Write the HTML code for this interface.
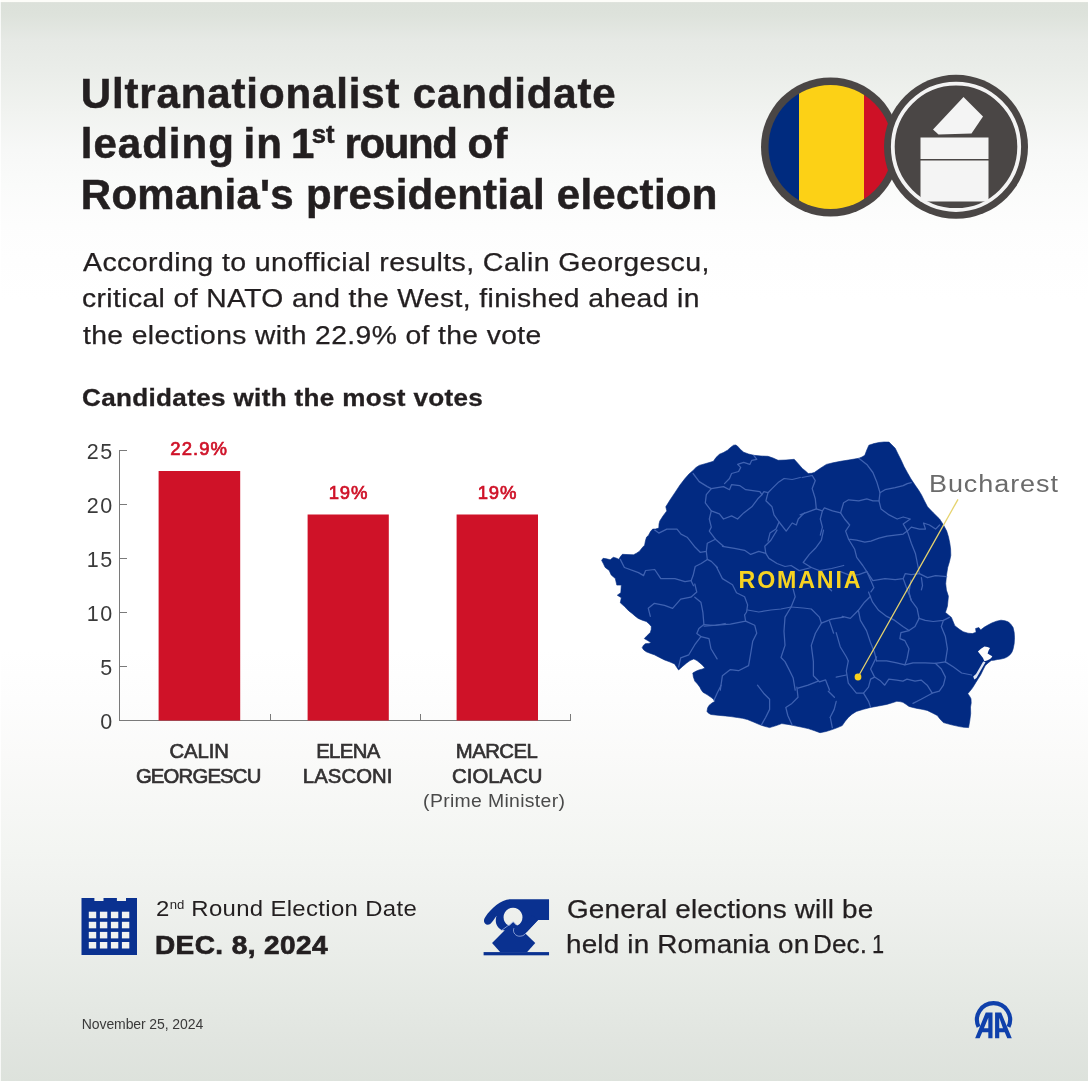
<!DOCTYPE html>
<html lang="en"><head><meta charset="utf-8"><title>Romania presidential election</title>
<style>
html,body{margin:0;padding:0}
body{width:1088px;height:1081px;overflow:hidden;position:relative;font-family:"Liberation Sans",sans-serif;
background:#fdfdfc}
#bg{position:absolute;left:0;top:0;width:1088px;height:1081px;
background:linear-gradient(to bottom,#fdfdf9 0px,#fdfdf9 1.6px,#dce1da 2.6px,#dde2db 14px,#e6e9e5 40px,#eaede9 70px,#f1f3f0 112px,#f7f8f7 150px,#fafbfa 185px,#fdfdfd 225px,#fefefe 260px,#ffffff 300px,#ffffff 650px,#fdfdfd 700px,#fafaf9 755px,#f6f7f5 810px,#f3f5f2 850px,#eff1ee 900px,#eaede9 950px,#e5e9e4 1000px,#e1e5e0 1040px,#dde2dc 1081px)}
.t{position:absolute;white-space:nowrap;line-height:1;margin:0;padding:0}
svg{position:absolute;left:0;top:0}
sup.s{font-size:55%;vertical-align:baseline;position:relative;top:-0.62em;letter-spacing:0}
</style></head><body>
<div id="bg"></div><div style="position:absolute;left:0;top:0;width:1.2px;height:1081px;background:rgba(255,255,255,.75)"></div>

<svg width="1088" height="1081" viewBox="0 0 1088 1081">
<defs><clipPath id="fc"><circle cx="830.5" cy="147" r="62"/></clipPath></defs>
<circle cx="830.5" cy="147" r="69.5" fill="#4a4645"/>
<g clip-path="url(#fc)">
<rect x="760" y="80" width="39" height="140" fill="#002b7f"/>
<rect x="799" y="80" width="65" height="140" fill="#fcd116"/>
<rect x="864" y="80" width="40" height="140" fill="#ce1126"/>
</g>
<circle cx="956" cy="146.8" r="72" fill="#4a4645"/>
<circle cx="956" cy="146.8" r="63.2" fill="none" stroke="#f4f4f4" stroke-width="3.8"/>
<polygon points="933,129.5 963.5,97 983,116.5 971.5,133.5 938.5,134.5" fill="#f4f4f4"/>
<rect x="920.5" y="137.5" width="68" height="21.5" fill="#f4f4f4"/>
<rect x="920.5" y="160.5" width="68" height="41" fill="#f4f4f4"/>

<g stroke="#7a7a7a" stroke-width="1" fill="none" shape-rendering="crispEdges">
<path d="M119.5 450V720.5M119 720.5H570.5"/>
<path d="M119.5 450.5H127"/>
<path d="M119.5 504.5H127"/>
<path d="M119.5 558.5H127"/>
<path d="M119.5 612.5H127"/>
<path d="M119.5 666.5H127"/>
<path d="M270.5 714V720.5"/>
<path d="M420.5 714V720.5"/>
<path d="M570.5 714V720.5"/>
</g>
<rect x="158.6" y="471" width="81.6" height="249.5" fill="#cf1228"/>
<rect x="307.6" y="514.5" width="81.2" height="206" fill="#cf1228"/>
<rect x="456.6" y="514.5" width="81.4" height="206" fill="#cf1228"/>
<polygon points="601.6,560.3 603.1,558.3 606.5,558.8 610.2,559.8 613.3,557.3 616.0,558.0 618.8,559.3 620.5,556.5 622.4,554.3 628.0,554.6 633.5,554.8 636.5,553.2 639.5,551.2 642.6,547.3 644.6,545.2 645.5,540.5 646.6,537.1 648.6,535.2 650.5,531.5 652.7,529.1 655.5,529.0 658.8,528.1 659.0,524.0 659.8,521.0 663.0,516.0 666.8,510.9 665.8,506.8 670.0,500.0 674.9,492.7 680.0,485.0 685.0,478.5 689.0,474.0 693.1,470.4 696.0,467.5 699.2,465.4 706.0,463.5 713.4,461.3 716.0,457.5 719.4,454.3 723.5,452.5 727.5,450.2 730.5,447.5 733.6,445.2 735.8,445.0 737.6,446.2 740.5,449.5 743.7,452.2 748.5,454.0 753.8,455.3 761.0,456.0 768.0,456.3 773.0,458.0 778.1,460.3 786.0,460.0 794.2,459.3 798.0,463.5 802.3,468.4 805.5,471.0 808.2,473.5 811.5,473.3 814.3,472.5 820.0,468.5 826.4,464.4 833.0,462.8 840.6,461.3 850.0,459.8 858.8,458.3 862.0,457.0 864.8,455.3 866.8,450.0 868.9,445.2 874.0,443.6 879.0,442.5 884.0,442.0 889.0,442.1 892.0,445.0 895.2,448.2 898.0,454.0 901.2,460.3 904.0,466.5 907.3,472.5 911.0,479.0 915.4,485.6 918.5,490.0 921.4,494.7 924.5,501.0 927.5,506.8 933.5,513.0 939.6,519.0 943.5,525.0 946.7,531.1 948.5,537.0 949.8,543.2 950.6,549.0 950.8,555.4 949.5,561.5 947.7,567.5 946.5,575.0 945.7,583.7 946.4,590.1 948.4,596.2 947.4,606.3 945.4,612.4 948.5,615.0 951.4,617.4 954.8,625.7 959.0,629.0 963.1,631.7 968.0,633.2 972.4,633.6 976.1,632.2 975.6,628.5 978.9,627.6 980.7,629.9 984.4,627.1 988.0,625.0 991.8,623.0 996.5,621.2 1001.0,620.2 1005.0,620.8 1008.5,622.0 1011.0,624.5 1013.1,627.6 1014.2,632.5 1014.5,637.8 1014.2,643.5 1013.1,648.9 1012.0,652.0 1010.3,654.4 1007.8,656.5 1004.8,658.1 1001.0,659.0 997.4,659.5 994.0,660.2 991.3,660.4 988.0,663.0 985.3,665.5 983.0,670.0 980.7,674.8 978.3,678.5 976.0,682.2 974.0,685.5 972.0,688.6 969.8,691.3 967.8,693.7 969.6,696.2 971.0,698.8 971.2,703.0 970.5,707.1 970.7,713.5 969.8,720.5 968.6,727.6 964.0,727.3 959.5,726.6 951.5,724.8 943.4,722.6 940.0,719.0 937.3,715.5 932.0,712.8 927.2,710.4 922.0,709.3 917.1,708.4 913.0,707.5 909.0,706.4 906.0,704.3 902.9,702.3 900.0,701.6 896.8,701.3 891.5,703.0 886.7,704.4 878.5,706.0 870.6,707.4 863.5,709.3 856.4,711.4 852.0,714.2 848.3,717.5 845.0,721.5 842.2,725.6 837.0,727.8 832.1,729.6 826.0,731.5 820.0,732.7 814.0,730.5 808.1,728.6 801.0,727.0 793.9,725.6 788.0,724.4 781.8,723.6 775.5,725.8 769.6,727.6 764.5,726.3 759.5,724.6 753.5,722.0 747.4,719.5 742.5,718.3 737.3,717.5 731.0,716.6 725.2,715.9 718.0,715.3 711.0,714.5 708.5,713.2 707.0,711.4 707.6,708.0 709.0,705.4 712.0,703.0 715.0,701.3 713.2,699.0 711.0,697.3 707.0,694.6 702.9,692.2 701.0,689.5 699.9,687.2 697.5,684.0 694.8,681.1 693.4,677.0 692.8,673.0 695.8,671.3 698.9,670.0 702.0,669.2 704.9,668.0 702.5,665.2 699.9,662.9 697.0,660.6 693.8,658.9 690.0,660.6 686.7,662.9 682.5,666.5 678.6,670.0 676.4,666.8 674.6,663.9 669.5,661.8 664.5,659.9 659.5,657.4 654.4,654.8 650.5,653.4 646.3,651.8 643.8,650.0 642.2,647.7 643.4,645.4 645.3,643.7 648.4,643.4 651.3,642.7 647.6,640.5 644.3,638.6 647.2,635.5 650.3,632.6 651.2,629.5 651.3,626.5 649.0,623.8 646.3,621.5 642.3,620.2 638.2,618.4 635.0,616.0 632.1,613.4 628.9,611.0 626.4,608.5 624.9,606.8 622.3,604.6 620.3,602.8 621.3,597.7 617.3,595.2 620.8,592.7 621.3,585.1 616.8,585.1 615.3,578.5 611.2,575.0 609.2,570.4 605.2,567.4 603.3,563.5" fill="#022a82" stroke="#022a82" stroke-width="0.6" stroke-linejoin="round"/>
<polygon points="977.9,651.6 981.0,648.8 984.4,646.5 987.5,646.9 990.0,647.9 988.5,650.8 987.6,653.5 990.0,655.0 992.3,656.3 991.4,657.8 990.0,659.0 987.0,660.4 984.4,661.3 983.6,659.6 983.0,658.1 980.3,654.6" fill="#fcfcfc"/>
<polygon points="983.2,661.5 985.5,662.3 981.0,670.0 976.5,678.0 974.3,679.5 973.2,676.5 976.0,674.0 979.5,668.0" fill="#dfe5f2"/>
<g fill="none" stroke="#4a6cba" stroke-width="1.25" stroke-linejoin="round" stroke-linecap="round" opacity="0.85">
<polyline points="693.1,473.5 699.2,481.6 707.3,486.6 711.3,488.6 723.5,486.6 729.5,489.7 731.6,484.6 739.6,485.6 745.7,489.7 759.9,491.7 761.9,494.7"/>
<polyline points="724.5,483.6 729.5,478.5 731.6,473.5 738.6,471.5 740.7,467.4 737.6,464.4 743.7,462.4 749.8,464.4 751.8,460.3 756.8,459.3 753.8,455.3"/>
<polyline points="711.3,488.6 706.3,494.7 705.3,502.8 711.3,510.9 709.3,519.0 711.3,527.1 709.3,531.1 715.4,539.2 707.3,543.2 706.3,551.3 700.2,552.3 695.2,547.3 691.1,542.2 687.1,537.2 681.0,534.1 677.0,529.1 666.8,529.1 658.8,533.1 654.7,530.1"/>
<polyline points="711.3,510.9 719.4,513.9 723.5,519.0 731.6,515.9 737.6,519.0 743.7,512.9 751.8,506.8 757.8,498.8 761.9,494.7 763.9,491.7 768.0,492.7 765.9,500.8 772.0,506.8 774.0,514.9 779.1,522.0 776.0,529.1 770.0,533.1 768.0,541.2"/>
<polyline points="768.0,492.7 772.0,488.6 778.1,482.6 784.1,478.5 792.2,479.5 800.3,477.5"/>
<polyline points="715.4,539.2 723.5,546.3"/>
<polyline points="706.3,551.3 707.3,559.4 711.3,561.4 717.4,567.5"/>
<polyline points="707.3,559.4 701.2,563.5 695.2,566.5 693.1,575.6 691.1,580.7 693.5,585.7"/>
<polyline points="620.3,559.4 624.4,567.5 638.5,572.6 643.6,575.6 645.6,570.5 654.7,569.5 660.8,578.6 674.9,578.6 685.0,581.7 691.1,580.7"/>
<polyline points="779.1,522.0 786.2,531.1 792.2,523.0 796.3,525.0 798.3,519.0 804.4,512.9"/>
<polyline points="802.1,477.5 812.2,475.5 815.3,480.6 812.2,488.6 815.3,498.8 816.3,508.9 822.4,510.9 824.4,507.9 832.5,510.9 840.6,512.9"/>
<polyline points="858.8,458.3 866.8,464.4 872.9,472.5 877.0,482.6 880.0,492.7 879.0,500.8 881.0,508.9 889.1,514.9 897.2,519.0 903.2,517.0 910.3,519.0 903.2,524.0 907.3,531.1"/>
<polyline points="880.0,492.7 885.0,489.7 895.2,487.6 903.2,485.6 907.3,483.6 911.3,482.6"/>
<polyline points="840.6,512.9 843.6,502.8 848.6,499.8 858.8,500.8 866.8,498.8 872.9,500.8 879.0,500.8"/>
<polyline points="840.6,512.9 844.6,519.0 849.7,525.0 845.6,531.1 848.6,539.2 856.7,540.2 864.8,542.2 870.9,541.2 879.0,538.2 887.1,536.2 895.2,535.2 903.2,534.1 907.3,531.1"/>
<polyline points="907.3,531.1 911.3,527.1 919.4,529.1 925.5,529.1 923.5,523.0 929.5,525.0 935.6,529.1 939.6,525.0"/>
<polyline points="907.3,531.1 911.3,543.2 915.4,553.4 917.4,563.5 919.4,573.6 911.3,574.6 905.3,573.6 903.2,578.6 895.2,579.6 885.0,578.6 872.9,580.7 866.8,571.6"/>
<polyline points="919.4,573.6 927.5,577.6 935.6,575.6 946.7,576.6"/>
<polyline points="921.4,577.6 922.5,585.7 921.4,589.8"/>
<polyline points="822.4,510.9 820.3,519.0 822.4,527.1 820.3,535.2"/>
<polyline points="800.1,514.9 808.2,511.9 816.3,508.9"/>
<polyline points="848.6,539.2 854.7,549.3 856.7,557.4 862.8,565.5 866.8,571.6 870.9,580.7 873.9,587.7 870.9,591.8"/>
<polyline points="840.6,571.6 850.7,575.6 858.8,574.6 866.8,571.6"/>
<polyline points="903.2,578.6 907.3,589.8 911.3,600.1"/>
<polyline points="650.3,616.4 648.3,608.3 654.4,603.3 664.5,605.3 672.6,608.3 680.7,599.2 690.8,597.2 696.8,592.1 694.8,584.0"/>
<polyline points="694.8,597.2 700.9,602.2 702.9,612.4 703.9,624.5 698.9,628.5 696.8,633.6 700.9,636.6 694.8,644.7 688.8,654.8 680.7,657.9 678.6,667.0"/>
<polyline points="703.9,624.5 715.0,625.5 725.2,623.5"/>
<polyline points="721.1,685.2 717.1,693.2 714.0,700.3"/>
<polyline points="700.9,636.6 709.0,638.6 711.0,648.8 717.1,658.9"/>
<polyline points="757.5,685.2 763.6,693.2 769.6,699.3 769.6,709.4 765.6,717.5 761.6,724.6"/>
<polyline points="796.9,687.2 798.0,697.3 791.9,703.4 785.8,707.4 787.8,715.5 791.9,724.6"/>
<polyline points="798.0,688.2 808.1,685.2 818.2,681.1"/>
<polyline points="828.3,691.2 834.4,697.3"/>
<polyline points="830.3,717.5 832.3,727.6"/>
<polyline points="848.3,660.9 846.3,671.0 848.3,683.1 856.4,693.2 863.5,693.2 868.5,687.2 870.6,679.1 874.6,677.1 870.6,669.0 874.6,660.9 876.6,656.8"/>
<polyline points="863.5,693.2 868.5,701.3 870.6,707.4"/>
<polyline points="876.6,660.9 886.7,660.9 896.8,662.9 904.9,664.9 913.0,662.9 925.2,662.9 935.3,663.3 945.4,661.9"/>
<polyline points="874.6,677.1 880.7,681.1 884.7,685.2 888.8,679.1 896.8,680.1 902.9,681.1 907.0,679.1 915.0,681.1 921.1,680.1 927.2,685.2 932.2,693.2 921.1,699.3 913.0,703.4"/>
<polyline points="935.3,663.3 941.3,669.0 945.4,677.1 943.4,685.2 939.3,691.2 932.2,693.2"/>
<polyline points="945.4,661.9 947.4,648.8 945.4,636.6 941.3,626.5 943.4,620.4"/>
<polyline points="945.4,661.9 953.5,667.0 961.6,673.0 971.7,675.0"/>
<polyline points="919.1,618.4 925.2,620.4 933.2,621.5 943.4,620.4 949.4,617.4"/>
<polyline points="919.1,618.4 915.0,626.5 909.0,630.6 900.9,632.6 899.9,638.6 904.9,640.7 909.0,648.8 907.0,658.9 904.9,664.9"/>
<polyline points="919.1,618.4 917.1,608.3 911.0,600.2 909.0,592.1 911.0,580.0"/>
<polyline points="868.5,592.1 872.6,602.2 878.6,610.3 886.7,616.4 894.8,620.4 902.9,626.5 909.0,630.6"/>
<polyline points="858.4,610.3 860.4,620.4 866.5,630.6 870.6,642.7 874.6,652.8 876.6,660.9"/>
<polyline points="858.4,610.3 864.5,602.2 870.6,596.2"/>
<polyline points="836.2,632.6 840.2,646.7 846.3,656.8 848.3,660.9"/>
<polyline points="842.2,616.4 850.3,618.4 858.4,610.3"/>
<polyline points="836.2,677.1 846.3,675.0"/>
<polyline points="836.2,701.3 834.2,709.4 830.1,717.5"/>
<polyline points="722.4,546.3 734.5,548.3 744.6,550.3 750.7,554.4 758.8,551.3 765.8,553.4 764.8,546.3 770.9,540.2 777.0,530.1"/>
<polyline points="765.8,553.4 768.9,558.4 777.0,563.5 785.0,566.5 791.1,565.5 799.2,570.6 811.3,567.5 803.2,562.5 809.3,554.4 815.4,548.3 821.4,540.2 823.5,530.1"/>
<polyline points="811.3,567.5 819.4,570.6 831.6,568.5 843.7,565.5"/>
<polyline points="716.3,566.5 722.4,578.6 732.5,584.7 736.5,592.8 744.6,596.8 747.6,604.9 746.6,612.0 744.6,615.0"/>
<polyline points="747.6,610.0 758.8,612.0 770.9,610.0 781.0,609.0 791.1,607.0 795.2,596.8 793.1,588.8"/>
<polyline points="791.1,607.0 803.2,608.0 811.3,609.0 819.4,617.1 821.4,623.1 831.6,619.1 843.7,617.1"/>
<polyline points="831.6,590.8 827.5,586.7"/>
<polyline points="744.6,615.0 745.6,621.1 730.4,624.1 716.3,625.2 704.2,626.2"/>
<polyline points="745.6,621.1 754.7,625.2 756.7,633.2 752.7,641.3 750.7,653.5 748.6,665.6 738.5,670.7 730.4,669.6 722.4,675.7 720.3,690.1"/>
<polyline points="791.1,607.0 785.0,617.1 784.0,631.2 785.0,645.4 781.0,657.5 785.0,661.6 789.1,669.6 793.1,677.7 795.2,690.1"/>
<polyline points="821.4,623.1 815.4,633.2 811.3,645.4 813.4,661.6 813.4,675.7 819.4,681.8 825.5,679.8 829.5,690.1"/>
<polyline points="829.5,621.1 833.6,633.2"/>
</g>
<line x1="958" y1="499.4" x2="858" y2="677" stroke="#e6d36e" stroke-width="1.3"/>
<circle cx="858" cy="677" r="3.4" fill="#f9d01c"/>
<path d="M81.5 898H94.4V901H103.5V898H116.9V901H126V898H137V955H81.5Z" fill="#0a3190"/>
<rect x="88.8" y="911.7" width="7.4" height="6.5" fill="#f1f2f1"/>
<rect x="99.9" y="911.7" width="7.4" height="6.5" fill="#f1f2f1"/>
<rect x="110.9" y="911.7" width="7.4" height="6.5" fill="#f1f2f1"/>
<rect x="121.9" y="911.7" width="7.4" height="6.5" fill="#f1f2f1"/>
<rect x="88.8" y="921.8" width="7.4" height="6.5" fill="#f1f2f1"/>
<rect x="99.9" y="921.8" width="7.4" height="6.5" fill="#f1f2f1"/>
<rect x="110.9" y="921.8" width="7.4" height="6.5" fill="#f1f2f1"/>
<rect x="121.9" y="921.8" width="7.4" height="6.5" fill="#f1f2f1"/>
<rect x="88.8" y="931.9" width="7.4" height="6.5" fill="#f1f2f1"/>
<rect x="99.9" y="931.9" width="7.4" height="6.5" fill="#f1f2f1"/>
<rect x="110.9" y="931.9" width="7.4" height="6.5" fill="#f1f2f1"/>
<rect x="121.9" y="931.9" width="7.4" height="6.5" fill="#f1f2f1"/>
<rect x="88.8" y="942" width="7.4" height="6.5" fill="#f1f2f1"/>
<rect x="99.9" y="942" width="7.4" height="6.5" fill="#f1f2f1"/>
<rect x="110.9" y="942" width="7.4" height="6.5" fill="#f1f2f1"/>
<rect x="121.9" y="942" width="7.4" height="6.5" fill="#f1f2f1"/>
<g transform="translate(470,885) scale(0.09191)">
<path fill-rule="evenodd" d="M860 155H440C340 160 230 250 165 350C130 400 170 450 220 425C245 405 265 365 290 335C265 400 290 460 345 490L600 530L740 380H860Z M468 247A103 103 0 1 0 468.1 247Z" fill="#0a3190"/>
<polygon points="470,400 240,630 330,732 620,732 710,630" fill="#0a3190"/>
<path d="M340 497L470 400L505 437" fill="none" stroke="#aebfe8" stroke-width="8"/>
<path d="M575 400C545 440 500 450 475 478C460 515 500 560 545 555C580 555 600 535 615 515L740 380Z" fill="#0a3190"/>
<path d="M478 470C458 515 500 562 545 557C580 556 600 538 617 514" fill="none" stroke="#aebfe8" stroke-width="8"/>
<path d="M600 420L740 380L680 330Z" fill="#0a3190"/>
<rect x="148" y="730" width="712" height="35" fill="#0a3190"/>
</g>
<g transform="translate(960,990) scale(0.06435)" fill="#0f40ab">
<path d="M289 572A257 257 0 1 1 753 572" fill="none" stroke="#0f40ab" stroke-width="64"/>
<path d="M235 750L400 350H505V750H440V655H345L305 750Z M372 595H440V430Z"/>
<path d="M805 750L640 350H545V750H610V655H695L735 750Z M668 595H610V430Z"/>
</g>
</svg>
<div class="t " style="left:80.80px;top:72.55px;font-size:42px;font-weight:700;color:#231f20;letter-spacing:0.86px;-webkit-text-stroke:0.55px #231f20;">Ultranationalist candidate</div>
<div class="t " style="left:80.80px;top:123.15px;font-size:42px;font-weight:700;color:#231f20;letter-spacing:1.0px;-webkit-text-stroke:0.55px #231f20;word-spacing:-4px;">leading in</div>
<div class="t " style="left:291.00px;top:123.15px;font-size:42px;font-weight:700;color:#231f20;letter-spacing:0px;-webkit-text-stroke:0.55px #231f20;">1<span style="font-size:25.5px;position:relative;top:-15.5px;margin-left:-2.5px;letter-spacing:0">st</span></div>
<div class="t " style="left:344.50px;top:123.15px;font-size:42px;font-weight:700;color:#231f20;letter-spacing:-1.4px;-webkit-text-stroke:0.55px #231f20;">round</div>
<div class="t " style="left:467.50px;top:123.15px;font-size:42px;font-weight:700;color:#231f20;letter-spacing:0.3px;-webkit-text-stroke:0.55px #231f20;">of</div>
<div class="t " style="left:80.80px;top:174.05px;font-size:42px;font-weight:700;color:#231f20;letter-spacing:0.27px;-webkit-text-stroke:0.55px #231f20;">Romania's presidential election</div>
<div class="t " style="left:83.00px;top:250.44px;font-size:25px;font-weight:400;color:#231f20;letter-spacing:0.35px;-webkit-text-stroke:0.25px #231f20;transform:scaleX(1.142);transform-origin:0 0;">According to unofficial results, Calin Georgescu,</div>
<div class="t " style="left:82.30px;top:286.24px;font-size:25px;font-weight:400;color:#231f20;letter-spacing:0.35px;-webkit-text-stroke:0.25px #231f20;transform:scaleX(1.131);transform-origin:0 0;">critical of NATO and the West, finished ahead in</div>
<div class="t " style="left:82.80px;top:322.54px;font-size:25px;font-weight:400;color:#231f20;letter-spacing:0.35px;-webkit-text-stroke:0.25px #231f20;transform:scaleX(1.13);transform-origin:0 0;">the elections with 22.9% of the vote</div>
<div class="t " style="left:81.80px;top:386.98px;font-size:23.3px;font-weight:700;color:#231f20;letter-spacing:0.3px;-webkit-text-stroke:0.3px #231f20;transform:scaleX(1.119);transform-origin:0 0;">Candidates with the most votes</div>
<div class="t" style="left:-86.10px;width:200px;text-align:right;top:441.50px;font-size:21.5px;font-weight:400;color:#3a3a3a;letter-spacing:1.6px;">25</div>
<div class="t" style="left:-86.10px;width:200px;text-align:right;top:495.50px;font-size:21.5px;font-weight:400;color:#3a3a3a;letter-spacing:1.6px;">20</div>
<div class="t" style="left:-86.10px;width:200px;text-align:right;top:549.50px;font-size:21.5px;font-weight:400;color:#3a3a3a;letter-spacing:1.6px;">15</div>
<div class="t" style="left:-86.10px;width:200px;text-align:right;top:603.50px;font-size:21.5px;font-weight:400;color:#3a3a3a;letter-spacing:1.6px;">10</div>
<div class="t" style="left:-86.10px;width:200px;text-align:right;top:657.50px;font-size:21.5px;font-weight:400;color:#3a3a3a;letter-spacing:1.6px;">5</div>
<div class="t" style="left:-86.10px;width:200px;text-align:right;top:711.50px;font-size:21.5px;font-weight:400;color:#3a3a3a;letter-spacing:1.6px;">0</div>
<div class="t" style="left:-1.30px;width:400px;text-align:center;top:439.64px;font-size:18.5px;font-weight:400;color:#cf1228;letter-spacing:1.05px;text-indent:1.05px;-webkit-text-stroke:0.7px #cf1228;">22.9%</div>
<div class="t" style="left:148.10px;width:400px;text-align:center;top:483.94px;font-size:18.5px;font-weight:400;color:#cf1228;letter-spacing:0.8px;text-indent:0.8px;-webkit-text-stroke:0.7px #cf1228;">19%</div>
<div class="t" style="left:297.10px;width:400px;text-align:center;top:483.94px;font-size:18.5px;font-weight:400;color:#cf1228;letter-spacing:0.8px;text-indent:0.8px;-webkit-text-stroke:0.7px #cf1228;">19%</div>
<div class="t" style="left:-0.80px;width:400px;text-align:center;top:740.62px;font-size:20.3px;font-weight:400;color:#333132;letter-spacing:-0.1px;text-indent:-0.1px;-webkit-text-stroke:0.65px #333132;">CALIN</div>
<div class="t" style="left:-1.40px;width:400px;text-align:center;top:765.92px;font-size:20.3px;font-weight:400;color:#333132;letter-spacing:-0.8px;text-indent:-0.8px;-webkit-text-stroke:0.65px #333132;">GEORGESCU</div>
<div class="t" style="left:148.20px;width:400px;text-align:center;top:740.62px;font-size:20.3px;font-weight:400;color:#333132;letter-spacing:-0.6px;text-indent:-0.6px;-webkit-text-stroke:0.65px #333132;">ELENA</div>
<div class="t" style="left:147.70px;width:400px;text-align:center;top:765.92px;font-size:20.3px;font-weight:400;color:#333132;letter-spacing:0.1px;text-indent:0.1px;-webkit-text-stroke:0.65px #333132;">LASCONI</div>
<div class="t" style="left:296.80px;width:400px;text-align:center;top:740.62px;font-size:20.3px;font-weight:400;color:#333132;letter-spacing:-0.5px;text-indent:-0.5px;-webkit-text-stroke:0.65px #333132;">MARCEL</div>
<div class="t" style="left:297.30px;width:400px;text-align:center;top:765.92px;font-size:20.3px;font-weight:400;color:#333132;letter-spacing:0.05px;text-indent:0.05px;-webkit-text-stroke:0.65px #333132;">CIOLACU</div>
<div class="t" style="left:294.20px;width:400px;text-align:center;top:792.69px;font-size:17.5px;font-weight:400;color:#4a4a4a;letter-spacing:0.3px;text-indent:0.3px;transform:scaleX(1.108);transform-origin:50% 0;">(Prime Minister)</div>
<div class="t " style="left:738.60px;top:569.36px;font-size:23.2px;font-weight:700;color:#f7d321;letter-spacing:1.85px;">ROMANIA</div>
<div class="t " style="left:928.80px;top:473.08px;font-size:23.3px;font-weight:400;color:#6b6b6b;letter-spacing:0.8px;transform:scaleX(1.158);transform-origin:0 0;">Bucharest</div>
<div class="t " style="left:156.20px;top:898.22px;font-size:21.6px;font-weight:400;color:#231f20;letter-spacing:0.3px;transform:scaleX(1.108);transform-origin:0 0;">2<sup class="s">nd</sup> Round Election Date</div>
<div class="t " style="left:154.80px;top:931.62px;font-size:26.2px;font-weight:700;color:#231f20;letter-spacing:0.4px;-webkit-text-stroke:0.7px #231f20;transform:scaleX(1.068);transform-origin:0 0;">DEC. 8, 2024</div>
<div class="t " style="left:566.50px;top:896.83px;font-size:25.6px;font-weight:400;color:#231f20;letter-spacing:0.15px;-webkit-text-stroke:0.25px #231f20;transform:scaleX(1.09);transform-origin:0 0;">General elections will be</div>
<div class="t " style="left:566.00px;top:931.83px;font-size:25.6px;font-weight:400;color:#231f20;letter-spacing:0.15px;-webkit-text-stroke:0.25px #231f20;transform:scaleX(1.09);transform-origin:0 0;">held in Romania on</div>
<div class="t " style="left:812.60px;top:931.83px;font-size:25.6px;font-weight:400;color:#231f20;letter-spacing:0.1px;-webkit-text-stroke:0.25px #231f20;transform:scaleX(1.02);transform-origin:0 0;">Dec.</div>
<div class="t " style="left:872.20px;top:931.83px;font-size:25.6px;font-weight:400;color:#231f20;letter-spacing:0px;-webkit-text-stroke:0.25px #231f20;transform:scaleX(0.85);transform-origin:0 0;">1</div>
<div class="t " style="left:81.80px;top:1017.45px;font-size:14px;font-weight:400;color:#3a3a3a;letter-spacing:-0.1px;">November 25, 2024</div>
</body></html>
